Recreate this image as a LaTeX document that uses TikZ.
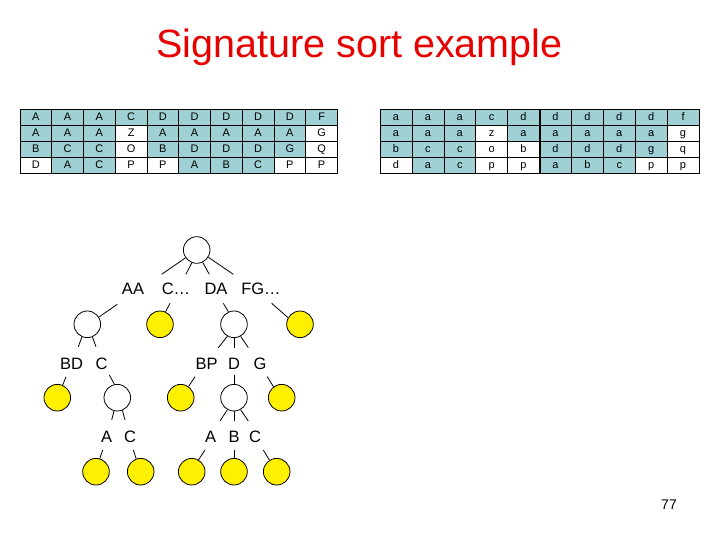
\documentclass[tikz,border=0pt]{standalone}
\usepackage{fontspec}
\setmainfont{Liberation Sans}
\definecolor{cellfill}{RGB}{158,208,212}
\definecolor{titlered}{RGB}{230,0,0}
\definecolor{bally}{RGB}{255,240,0}
\begin{document}
\begin{tikzpicture}[x=1pt,y=-1pt,
  wcirc/.style={circle,draw=black,minimum size=26.6pt,inner sep=0pt,line width=0.8pt,fill=white},
  ycirc/.style={wcirc,fill=bally},
  lbl/.style={anchor=base,inner sep=0pt,font=\fontsize{16.5}{18}\selectfont},
  conn/.style={line width=0.8pt},
  cellbox/.style={draw=black,line width=0.6pt,inner sep=0pt,minimum height=16pt,
    text height=7.9pt,text depth=0pt,font=\fontsize{11}{12}\selectfont}]
\useasboundingbox (0,0) rectangle (720,540);

% title
\node[anchor=base,inner sep=0pt,text=titlered,font=\fontsize{39.5}{44}\selectfont] (title) at (359.5,57.5) {Signature sort example};

% left table
\foreach \row [count=\r from 0] in {
  {A/1,A/1,A/1,C/1,D/1,D/1,D/1,D/1,D/1,F/1},
  {A/1,A/1,A/1,Z/0,A/1,A/1,A/1,A/1,A/1,G/0},
  {B/1,C/1,C/1,O/0,B/1,D/1,D/1,D/1,G/1,Q/0},
  {D/0,A/1,C/1,P/0,P/0,A/1,B/1,C/1,P/0,P/0}}{
  \foreach \t/\s [count=\c from 0] in \row {
    \ifnum\s=1 \def\fc{cellfill}\else\def\fc{white}\fi
    \node[cellbox,fill=\fc,minimum width=31.75pt] (L-\r-\c) at ({20+31.75*(\c+0.5)},{109+16*(\r+0.5)}) {\t};
  }
}

% right table
\foreach \row [count=\r from 0] in {
  {a/1,a/1,a/1,c/1,d/1,d/1,d/1,d/1,d/1,f/1},
  {a/1,a/1,a/1,z/0,a/1,a/1,a/1,a/1,a/1,g/0},
  {b/1,c/1,c/1,o/0,b/0,d/1,d/1,d/1,g/1,q/0},
  {d/0,a/1,c/1,p/0,p/0,a/1,b/1,c/1,p/0,p/0}}{
  \foreach \t/\s [count=\c from 0] in \row {
    \ifnum\s=1 \def\fc{cellfill}\else\def\fc{white}\fi
    \node[cellbox,fill=\fc,minimum width=31.9pt] (R-\r-\c) at ({380+31.9*(\c+0.5)},{109+16*(\r+0.5)}) {\t};
  }
}
\draw[line width=2pt] (R-0-4.north east) -- (R-3-4.south east);

% tree circles
\node[wcirc] (root) at (196.7,250) {};
\node[wcirc] (n1) at (87.3,324.3) {};
\node[ycirc] (y1) at (160,324.3) {};
\node[wcirc] (n2) at (234,324.3) {};
\node[ycirc] (y2) at (300,324.3) {};
\node[ycirc] (y3) at (57.3,397.7) {};
\node[wcirc] (n3) at (117.3,397.7) {};
\node[ycirc] (y4) at (180.7,397.7) {};
\node[wcirc] (n4) at (234,397.7) {};
\node[ycirc] (y5) at (281.7,397.7) {};
\node[ycirc] (y6) at (96,471.7) {};
\node[ycirc] (y7) at (140.7,471.7) {};
\node[ycirc] (y8) at (191.7,471.7) {};
\node[ycirc] (y9) at (234,471.7) {};
\node[ycirc] (y10) at (276.7,471.7) {};

% labels
\node[lbl] (lAA) at (133,294.9) {AA};
\node[lbl] (lC) at (176,294.9) {C…};
\node[lbl] (lDA) at (216,294.9) {DA};
\node[lbl] (lFG) at (261,294.9) {FG…};
\node[lbl] (lBD) at (71.7,369.2) {BD};
\node[lbl] (lC2) at (101.7,369.2) {C};
\node[lbl] (lBP) at (206.7,369.2) {BP};
\node[lbl] (lD) at (234,369.2) {D};
\node[lbl] (lG) at (260,369.2) {G};
\node[lbl] (lA3) at (106.7,442.6) {A};
\node[lbl] (lC3) at (130,442.6) {C};
\node[lbl] (lA4) at (210.7,442.6) {A};
\node[lbl] (lB4) at (234,442.6) {B};
\node[lbl] (lC4) at (255,442.6) {C};

% connectors
\draw[conn] (root.215) -- (161.7,274.3);
\draw[conn] (root.249) -- (186,274.3);
\draw[conn] (root.296) -- (209.3,274.3);
\draw[conn] (root.328) -- (233.3,274.3);

\draw[conn] (n1.32) -- (117.3,304.3);
\draw[conn] (y1.66) -- (170,303.3);
\draw[conn] (n2.114) -- (223.3,303.3);
\draw[conn] (y2.151) -- (271.7,303.3);

\draw[conn] (n1.247) -- (78.3,346.7);
\draw[conn] (n1.292) -- (96,346.7);
\draw[conn] (n2.241) -- (218.3,347.7);
\draw[conn] (n2.270) -- (234,347.7);
\draw[conn] (n2.299) -- (248.3,347.7);

\draw[conn] (y3.67) -- (66,376.7);
\draw[conn] (n3.102) -- (109.3,375);
\draw[conn] (y4.55) -- (195,376.7);
\draw[conn] (n4.90) -- (234,375);
\draw[conn] (y5.127) -- (267.3,376.7);

\draw[conn] (n3.256) -- (111.7,420);
\draw[conn] (n3.292) -- (125,420);
\draw[conn] (n4.241) -- (220,421);
\draw[conn] (n4.270) -- (234,421);
\draw[conn] (n4.299) -- (248.3,421);

\draw[conn] (y6.74) -- (102.7,450);
\draw[conn] (y7.109) -- (133.3,450);
\draw[conn] (y8.60) -- (205,450);
\draw[conn] (y9.90) -- (234,450);
\draw[conn] (y10.122) -- (263.3,450);

% page number
\node[anchor=base,inner sep=0pt,font=\fontsize{14}{16}\selectfont] (pg) at (669,509) {77};
\end{tikzpicture}
\end{document}
